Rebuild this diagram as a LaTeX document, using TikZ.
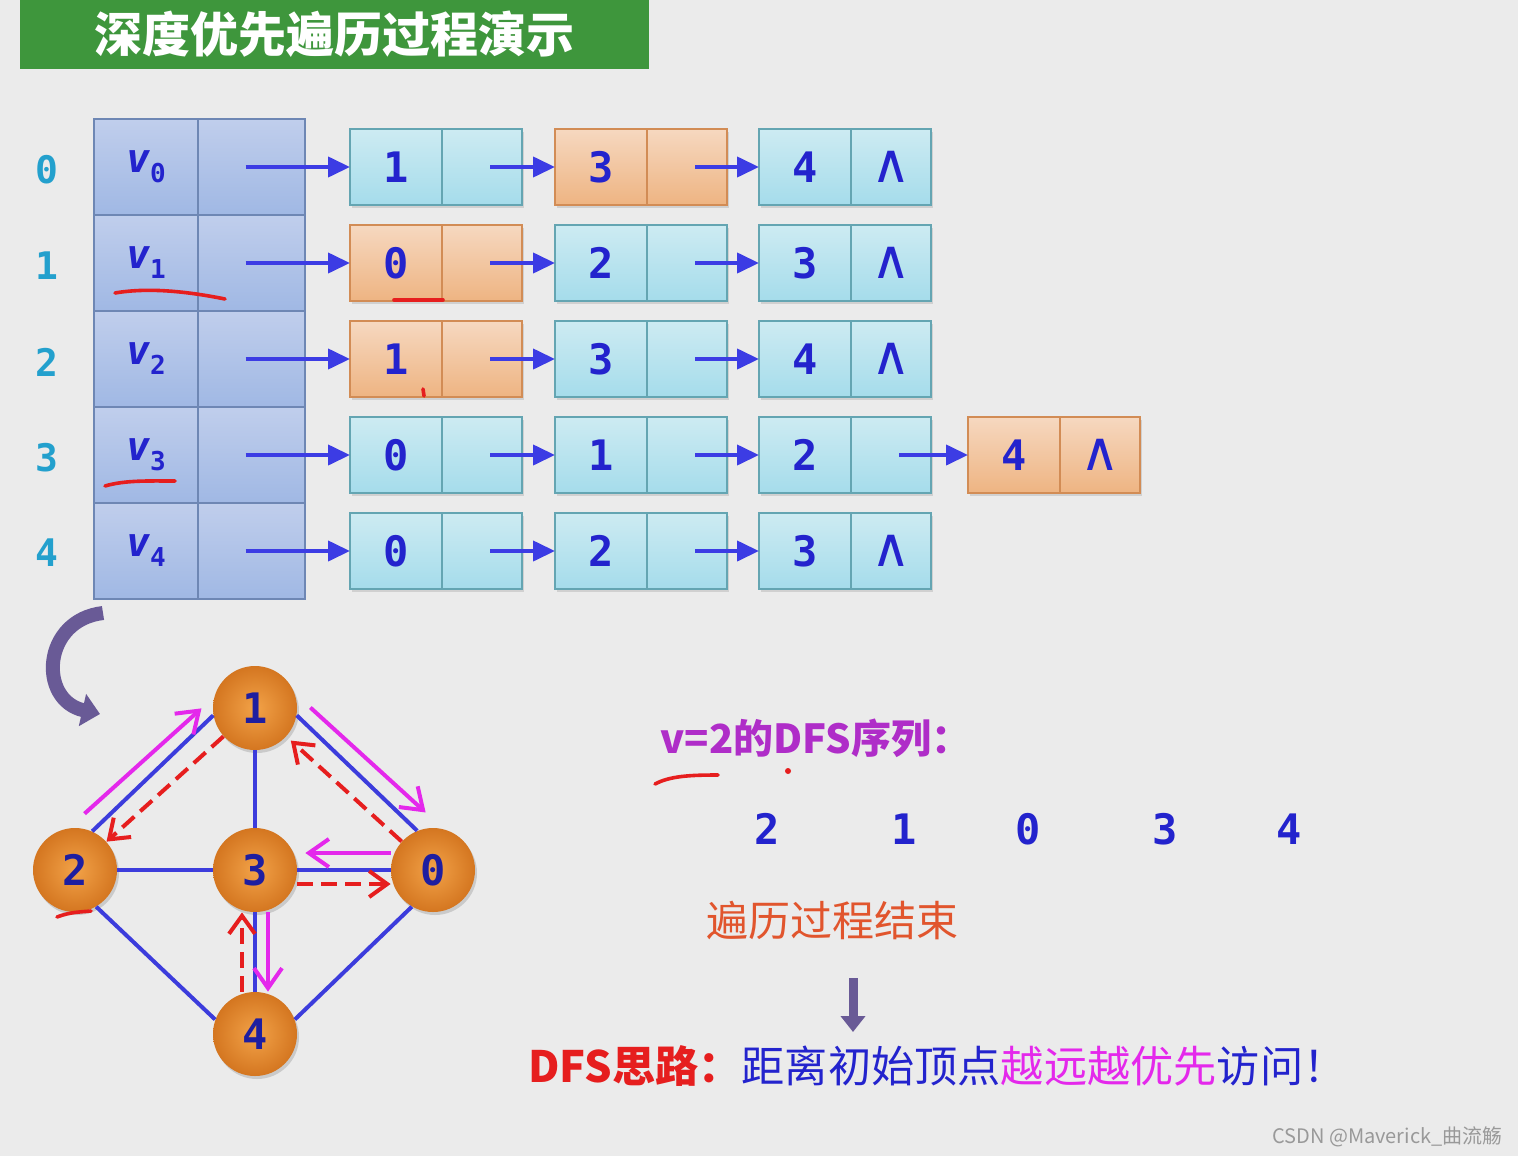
\documentclass[tikz,border=0pt]{standalone}
\usepackage{fontspec}
\usetikzlibrary{positioning,arrows.meta,shadows}
\newfontfamily\cjk{Noto Sans CJK SC}
\newfontfamily\mono{DejaVu Sans Mono}
\newfontfamily\symf{DejaVu Sans}
\definecolor{bgray}{RGB}{235,235,235}
\definecolor{titlegreen}{RGB}{62,150,60}
\definecolor{idxcyan}{RGB}{35,160,205}
\definecolor{inkblue}{RGB}{35,35,205}
\definecolor{arrowblue}{RGB}{60,60,228}
\definecolor{headline}{RGB}{110,135,180}
\definecolor{headtop}{RGB}{192,206,236}
\definecolor{headbot}{RGB}{160,184,228}
\definecolor{cyline}{RGB}{100,165,178}
\definecolor{cytop}{RGB}{205,235,242}
\definecolor{cybot}{RGB}{165,220,235}
\definecolor{orline}{RGB}{210,140,85}
\definecolor{ortop}{RGB}{246,216,192}
\definecolor{orbot}{RGB}{238,180,130}
\definecolor{balllight}{RGB}{242,162,72}
\definecolor{balldark}{RGB}{212,118,32}
\definecolor{balltext}{RGB}{30,30,160}
\definecolor{edgeblue}{RGB}{60,60,220}
\definecolor{trymag}{RGB}{228,40,235}
\definecolor{backred}{RGB}{230,30,30}
\definecolor{purplegray}{RGB}{105,90,150}
\definecolor{seqpurple}{RGB}{175,45,200}
\definecolor{endorange}{RGB}{225,85,45}
\newcommand{\vsub}[1]{{\itshape v}\raisebox{-5pt}{\fontsize{13}{13}\selectfont\upshape #1}}

\begin{document}
\begin{tikzpicture}[x=0.5pt, y=-0.5pt,
    digit/.style={font=\mono\bfseries\fontsize{21}{21}\selectfont, text=inkblue},
    index/.style={font=\mono\bfseries\fontsize{19}{19}\selectfont, text=idxcyan},
    nil/.style={font=\symf\fontsize{27}{27}\selectfont},
    headcell/.style={draw=headline, line width=0.8pt, top color=headtop, bottom color=headbot,
        minimum width=52pt, minimum height=48pt, inner sep=0pt, outer sep=0pt,
        font=\mono\bfseries\fontsize{20}{20}\selectfont, text=inkblue},
    datacell/.style={draw=#1line, line width=0.8pt, top color=#1top, bottom color=#1bot,
        minimum width=46pt, minimum height=38pt, inner sep=0pt, outer sep=0pt,
        drop shadow={shadow xshift=1pt, shadow yshift=-1.5pt, opacity=0.25}, digit},
    linkcell/.style={datacell=#1, minimum width=40pt},
    ptr/.style={draw=arrowblue, line width=2pt, -{Triangle[length=11pt,width=10pt]}},
    ball/.style={circle, minimum size=42pt, inner sep=0pt, inner color=balllight, outer color=balldark,
        drop shadow={shadow xshift=1pt, shadow yshift=-1.5pt, opacity=0.3},
        font=\mono\bfseries\fontsize{21}{21}\selectfont, text=balltext},
    edge/.style={draw=edgeblue, line width=2pt},
    tryarrow/.style={draw=trymag, line width=2pt, -{Straight Barb[length=10pt,width=14pt]}},
    backarrow/.style={draw=backred, line width=2pt, dash pattern=on 8pt off 4pt,
        -{Straight Barb[length=9pt,width=13pt]}},
    bendarrow/.style={draw=purplegray, line width=7pt, -{Triangle[length=9pt,width=16pt]}},
    downarrow/.style={draw=purplegray, line width=4.5pt, -{Triangle[length=8pt,width=12pt]}},
    scribble/.style={draw=backred, line width=1.8pt, line cap=round},
    ]
\fill[bgray] (0,0) rectangle (1518,1156);
\useasboundingbox (0,0) rectangle (1518,1156);

% title bar
\node[fill=titlegreen, minimum width=314.5pt, minimum height=34.5pt, inner sep=0pt,
      font=\cjk\bfseries\fontsize{24}{24}\selectfont, text=white] (title) at (334.5,34.5) {深度优先遍历过程演示};

% vertex table
\node[index] (i0) at (47,170) {0};
\node[index] (i1) at (47,266) {1};
\node[index] (i2) at (47,362) {2};
\node[index] (i3) at (47,458) {3};
\node[index] (i4) at (47,553) {4};
\node[headcell] (h0) at (146,167) {\vsub{0}};
\node[headcell] (h1) at (146,263) {\vsub{1}};
\node[headcell] (h2) at (146,359) {\vsub{2}};
\node[headcell] (h3) at (146,455) {\vsub{3}};
\node[headcell] (h4) at (146,551) {\vsub{4}};
\node[headcell, minimum width=53.5pt, right=0pt of h0] (hp0) {};
\node[headcell, minimum width=53.5pt, right=0pt of h1] (hp1) {};
\node[headcell, minimum width=53.5pt, right=0pt of h2] (hp2) {};
\node[headcell, minimum width=53.5pt, right=0pt of h3] (hp3) {};
\node[headcell, minimum width=53.5pt, right=0pt of h4] (hp4) {};

% edge lists
\node[datacell=cy] (n01) at (396,167) {1};
\node[linkcell=cy, right=0pt of n01] (p01) {};
\node[datacell=or] (n02) at (601,167) {3};
\node[linkcell=or, right=0pt of n02] (p02) {};
\node[datacell=cy] (n03) at (805,167) {4};
\node[linkcell=cy, right=0pt of n03, nil] (p03) {∧};

\node[datacell=or] (n11) at (396,263) {0};
\node[linkcell=or, right=0pt of n11] (p11) {};
\node[datacell=cy] (n12) at (601,263) {2};
\node[linkcell=cy, right=0pt of n12] (p12) {};
\node[datacell=cy] (n13) at (805,263) {3};
\node[linkcell=cy, right=0pt of n13, nil] (p13) {∧};

\node[datacell=or] (n21) at (396,359) {1};
\node[linkcell=or, right=0pt of n21] (p21) {};
\node[datacell=cy] (n22) at (601,359) {3};
\node[linkcell=cy, right=0pt of n22] (p22) {};
\node[datacell=cy] (n23) at (805,359) {4};
\node[linkcell=cy, right=0pt of n23, nil] (p23) {∧};

\node[datacell=cy] (n31) at (396,455) {0};
\node[linkcell=cy, right=0pt of n31] (p31) {};
\node[datacell=cy] (n32) at (601,455) {1};
\node[linkcell=cy, right=0pt of n32] (p32) {};
\node[datacell=cy] (n33) at (805,455) {2};
\node[linkcell=cy, right=0pt of n33] (p33) {};
\node[datacell=or] (n34) at (1014,455) {4};
\node[linkcell=or, right=0pt of n34, nil] (p34) {∧};

\node[datacell=cy] (n41) at (396,551) {0};
\node[linkcell=cy, right=0pt of n41] (p41) {};
\node[datacell=cy] (n42) at (601,551) {2};
\node[linkcell=cy, right=0pt of n42] (p42) {};
\node[datacell=cy] (n43) at (805,551) {3};
\node[linkcell=cy, right=0pt of n43, nil] (p43) {∧};

\draw[ptr] ([xshift=-3pt]hp0.center) -- (n01.west);
\draw[ptr] ([xshift=-3pt]hp1.center) -- (n11.west);
\draw[ptr] ([xshift=-3pt]hp2.center) -- (n21.west);
\draw[ptr] ([xshift=-3pt]hp3.center) -- (n31.west);
\draw[ptr] ([xshift=-3pt]hp4.center) -- (n41.west);
\draw[ptr] ([xshift=4pt]p01.center) -- (n02.west);
\draw[ptr] ([xshift=4pt]p02.center) -- (n03.west);
\draw[ptr] ([xshift=4pt]p11.center) -- (n12.west);
\draw[ptr] ([xshift=4pt]p12.center) -- (n13.west);
\draw[ptr] ([xshift=4pt]p21.center) -- (n22.west);
\draw[ptr] ([xshift=4pt]p22.center) -- (n23.west);
\draw[ptr] ([xshift=4pt]p31.center) -- (n32.west);
\draw[ptr] ([xshift=4pt]p32.center) -- (n33.west);
\draw[ptr] ([xshift=4pt]p33.center) -- (n34.west);
\draw[ptr] ([xshift=4pt]p41.center) -- (n42.west);
\draw[ptr] ([xshift=4pt]p42.center) -- (n43.west);

% graph
\node[ball] (g1) at (255,708) {1};
\node[ball] (g2) at (75,870) {2};
\node[ball] (g3) at (255,870) {3};
\node[ball] (g0) at (433,870) {0};
\node[ball] (g4) at (255,1034) {4};
\draw[edge] (g1.190) -- (g2.66);
\draw[edge] (g1.350) -- (g0.112);
\draw[edge] (g1) -- (g3);
\draw[edge] (g2) -- (g3);
\draw[edge] (g3) -- (g0);
\draw[edge] (g2.300) -- (g4.160);
\draw[edge] (g3) -- (g4);
\draw[edge] (g0.240) -- (g4.20);
\draw[tryarrow, transform canvas={shift={(-22,-28)}}] (g2) -- (g1);
\draw[tryarrow, transform canvas={shift={(24,-29)}}] (g1) -- (g0);
\draw[tryarrow, transform canvas={shift={(0,-17)}}, shorten >=4pt] (g0) -- (g3);
\draw[tryarrow, transform canvas={shift={(13,0)}}] (g3) -- (g4);
\draw[backarrow] (g1) -- (g2);
\draw[backarrow, shorten >=3pt] (g0) -- (g1);
\draw[backarrow, transform canvas={shift={(0,14)}}] (g3) -- (g0);
\draw[backarrow, transform canvas={shift={(-13,0)}}] (g4) -- (g3);

% table -> graph hint
\coordinate (ctop) at (103,613);
\coordinate (cbot) at (100,714);
\draw[bendarrow] (ctop) .. controls (42,620) and (38,700) .. (cbot);

% result
\node[anchor=west, inner sep=0pt, font=\cjk\bfseries\fontsize{20}{20}\selectfont, text=seqpurple] (seqlabel) at (660,738) {v=2的DFS序列：};
\node[digit] (s1) at (767,829) {2};
\node[digit] (s2) at (904,829) {1};
\node[digit] (s3) at (1028,829) {0};
\node[digit] (s4) at (1165,829) {3};
\node[digit] (s5) at (1289,829) {4};
\node[anchor=west, inner sep=0pt, font=\cjk\fontsize{21}{21}\selectfont, text=endorange] (done) at (706,920) {遍历过程结束};
\coordinate (dtop) at (853,978);
\coordinate (dbot) at (853,1032);
\draw[downarrow] (dtop) -- (dbot);
\node[anchor=west, inner sep=0pt, font=\cjk\fontsize{21.6}{22}\selectfont] (idea) at (528,1066)
    {{\color{backred}\bfseries DFS思路：}{\color{inkblue}距离初始顶点}{\color{trymag}越远越优先}{\color{inkblue}访问！}};
\node[anchor=east, inner sep=0pt, font=\cjk\fontsize{10}{10}\selectfont, text=black!40] (mark) at (1503,1137) {CSDN @Maverick\_曲流觞};

% hand marks
\draw[scribble] (115,293) .. controls (150,287) and (190,292) .. (225,299);
\draw[scribble] (394,300) -- (443,300);
\draw[scribble] (423,389) -- (424,396);
\draw[scribble] (105,486) .. controls (125,480) and (150,481) .. (175,481);
\draw[scribble] (57,917) .. controls (70,912) and (80,912) .. (91,911);
\draw[scribble] (655,784) .. controls (670,776) and (690,775) .. (718,775);
\fill[backred] (788,771) circle (1.5pt);
\end{tikzpicture}
\end{document}
